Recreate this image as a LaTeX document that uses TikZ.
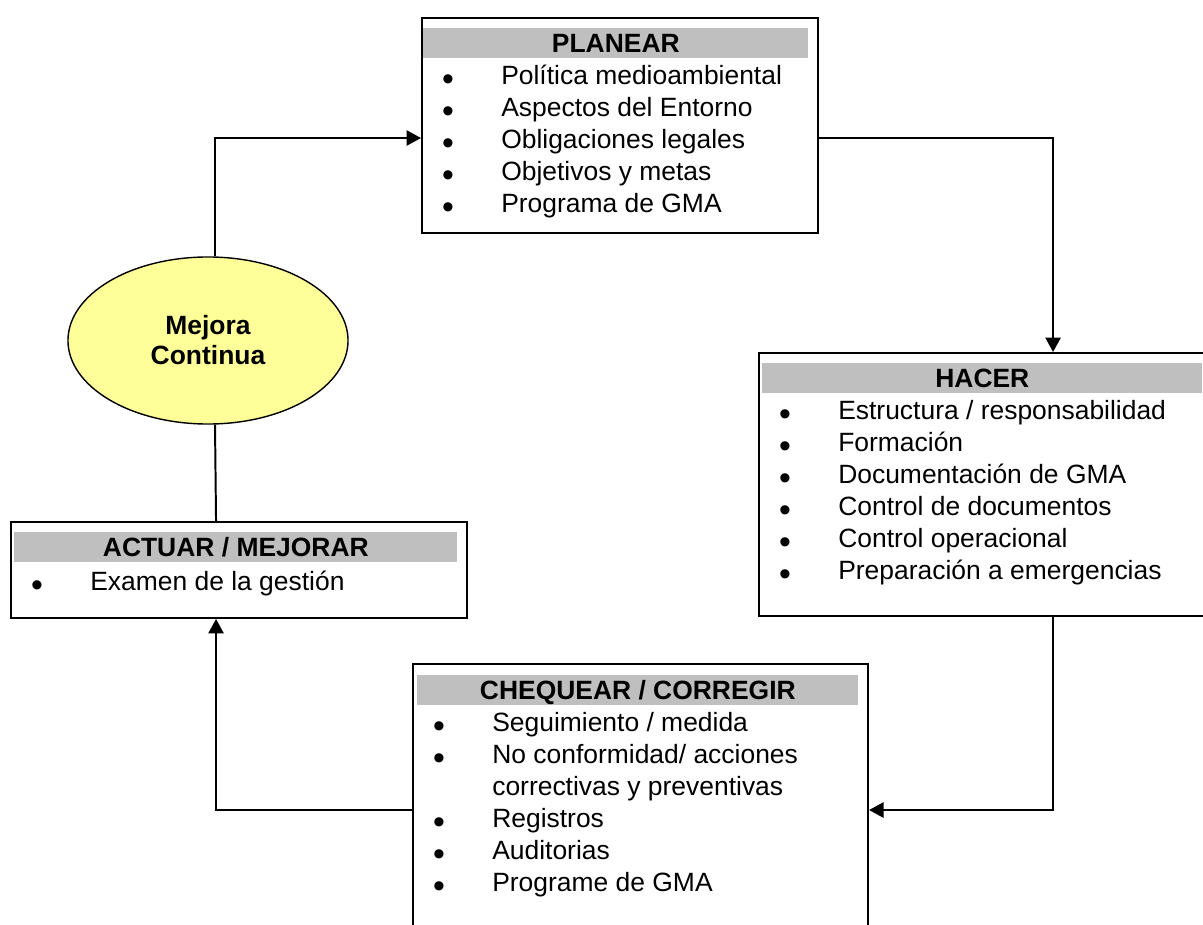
\documentclass[tikz,border=0pt]{standalone}
\usepackage{fontspec}
\setmainfont{Liberation Sans}
\usepackage{tikz}
\usetikzlibrary{positioning, arrows.meta, shapes.geometric}
\definecolor{mejora}{HTML}{FFFF99}

\begin{document}
\begin{tikzpicture}[x=0.025cm, y=-0.025cm,
  phase/.style={draw, line width=1.4pt, fill=white, inner sep=0pt, anchor=north west},
  head/.style={fill=gray!50, inner sep=0pt, anchor=north west,
               minimum height=0.75cm, text height=0.6cm, text depth=0.15cm,
               font=\fontsize{18.8}{22.8}\selectfont\bfseries},
  item/.style={inner sep=0pt, anchor=base west, font=\fontsize{18.8}{22.8}\selectfont},
  dot/.style={inner sep=0pt, anchor=base, font=\fontsize{24}{24}\selectfont},
  arr/.style={-{Triangle[length=0.36cm, width=0.38cm]}, line width=1.4pt}
]
\useasboundingbox (0,0) rectangle (1203,925);

\node[phase, minimum width=9.9cm, minimum height=5.375cm] (plan) at (421,17) {};
\node[head, minimum width=9.625cm] (planH) at ([shift={(2,11)}]plan.north west) {PLANEAR};
\foreach \t [count=\i] in {Política medioambiental, Aspectos del Entorno,
    Obligaciones legales, Objetivos y metas, Programa de GMA} {
  \node[dot] (planB\i) at ([shift={(27,{42+31.9*\i})}]plan.north west) {•};
  \node[item] (planT\i) at ([shift={(80,{36+31.9*\i})}]plan.north west) {\t};
}

\node[phase, minimum width=11.15cm, minimum height=6.575cm] (hacer) at (758,352) {};
\node[head, minimum width=11cm] (hacerH) at ([shift={(4,11)}]hacer.north west) {HACER};
\foreach \t [count=\i] in {Estructura / responsabilidad, Formación,
    Documentación de GMA, Control de documentos, Control operacional,
    Preparación a emergencias} {
  \node[dot] (hacerB\i) at ([shift={(27,{42+31.9*\i})}]hacer.north west) {•};
  \node[item] (hacerT\i) at ([shift={(80,{36+31.9*\i})}]hacer.north west) {\t};
}

\node[phase, minimum width=11.375cm, minimum height=6.8cm] (chq) at (412,663) {};
\node[head, minimum width=11.025cm] (chqH) at ([shift={(5,12)}]chq.north west) {CHEQUEAR / CORREGIR};
\foreach \t [count=\i] in {Seguimiento / medida, No conformidad/ acciones,
    correctivas y preventivas, Registros, Auditorias, Programe de GMA} {
  \node[item] (chqT\i) at ([shift={(80,{37+31.9*\i})}]chq.north west) {\t};
}
\foreach \i in {1,2,4,5,6} {
  \node[dot] (chqB\i) at ([shift={(27,{43+31.9*\i})}]chq.north west) {•};
}

\node[phase, minimum width=11.4cm, minimum height=2.4cm] (act) at (10,521) {};
\node[head, minimum width=11.075cm] (actH) at ([shift={(4,11)}]act.north west) {ACTUAR / MEJORAR};
\node[dot] (actB1) at ([shift={(27,75)}]act.north west) {•};
\node[item] (actT1) at ([shift={(80,69)}]act.north west) {Examen de la gestión};

\node[ellipse, draw, line width=1pt, fill=mejora, inner sep=0pt,
      minimum width=7cm, minimum height=4.175cm, align=center,
      font=\fontsize{18.8}{21.3}\selectfont\bfseries] (ell) at (208,340.5) {Mejora\\Continua};

\draw[arr] ([xshift=0.175cm]ell.north) |- ([yshift=-0.3125cm]plan.west);
\draw[arr] ([yshift=-0.3125cm]plan.east) -| ([xshift=1.775cm]hacer.north);
\draw[arr] ([xshift=1.775cm]hacer.south) |- ([yshift=-0.25cm]chq.east);
\draw[arr] ([yshift=-0.25cm]chq.west) -| ([xshift=-0.575cm]act.south);
\draw[line width=1.4pt] ([xshift=-0.575cm]act.north) -- ([xshift=0.175cm]ell.south);
\end{tikzpicture}
\end{document}
